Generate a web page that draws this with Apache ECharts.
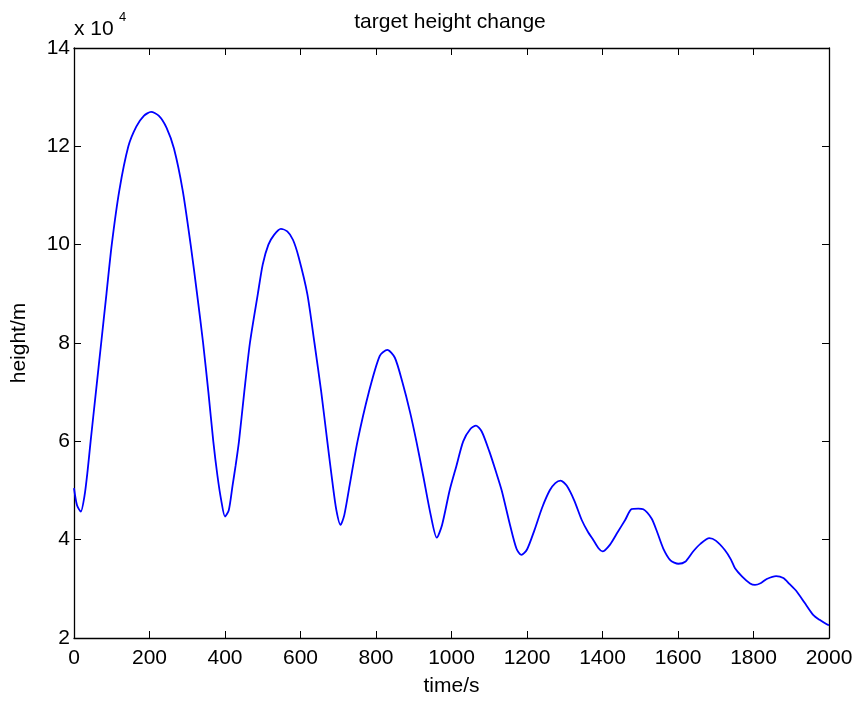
<!DOCTYPE html>
<html>
<head>
<meta charset="utf-8">
<script src="https://cdn.jsdelivr.net/npm/echarts@6/dist/echarts.min.js"></script>
<style>
html,body{margin:0;padding:0;background:#fff;}
#c{width:856px;height:702px;}
</style>
</head>
<body>
<div id="c"></div>
<script>
// time in s
const timeS = [0,8,18,28,36,44,58,72,86,100,120,144,165,185,204,225,245,265,288,309,326,342,356,369,380,390,400,410,420,428,437,451,466,487,500,515,530,548,565,580,595,618,637,655,671,684,695,706,716,730,751,781,810,830,850,870,890,907,925,945,961,975,995,1013,1031,1050,1065,1080,1100,1117,1133,1155,1172,1185,1200,1220,1240,1260,1275,1289,1305,1325,1345,1362,1376,1390,1400,1420,1440,1460,1477,1495,1508,1530,1545,1561,1580,1601,1619,1640,1660,1683,1700,1724,1740,1751,1770,1791,1804,1820,1835,1860,1879,1895,1914,1935,1958,1975,1994,2000];
// height in units of 10^4 m
const heightE4 = [5.05,4.7,4.57,4.9,5.4,6.0,7.0,8.0,9.0,10.0,11.1,12.0,12.4,12.62,12.7,12.62,12.38,11.95,11.1,10.0,9.0,8.0,7.0,6.0,5.3,4.8,4.47,4.6,5.1,5.5,6.0,7.0,8.0,9.0,9.6,10.0,10.2,10.32,10.27,10.1,9.75,9.0,8.0,7.0,6.0,5.2,4.6,4.3,4.5,5.1,6.0,7.0,7.74,7.86,7.7,7.2,6.6,6.0,5.3,4.5,4.04,4.3,5.0,5.5,6.0,6.25,6.32,6.2,5.8,5.4,5.0,4.3,3.82,3.69,3.8,4.2,4.65,5.0,5.15,5.2,5.1,4.8,4.4,4.15,3.99,3.82,3.76,3.9,4.15,4.4,4.62,4.63,4.62,4.43,4.15,3.82,3.58,3.51,3.55,3.76,3.92,4.03,3.98,3.79,3.6,3.42,3.25,3.11,3.08,3.12,3.2,3.26,3.22,3.1,2.95,2.72,2.47,2.37,2.28,2.26];
const xTicks = [0,200,400,600,800,1000,1200,1400,1600,1800,2000];
const yTicks = [2,4,6,8,10,12,14];
const titleText = 'target height change';
const xName = 'time/s';
const yName = 'height/m';
const scaleText = 'x 10';
const scaleExp = '4';

const chart = echarts.init(document.getElementById('c'), null, {renderer:'canvas'});
const FONT = 'Liberation Sans, Arial, sans-serif';
const FS = 21;
const tickCommon = {show:true, inside:true, length:7, lineStyle:{color:'#000', width:1}};
const lineCommon = {show:true, onZero:false, lineStyle:{color:'#000', width:1.3}};
const xMin = xTicks[0], xMax = xTicks[xTicks.length-1], xInt = xTicks[1]-xTicks[0];
const yMin = yTicks[0], yMax = yTicks[yTicks.length-1], yInt = yTicks[1]-yTicks[0];

chart.setOption({
  animation:false,
  backgroundColor:'#fff',
  grid:{left:74, right:27, top:48, bottom:62, containLabel:false},
  xAxis:[
    {type:'value', position:'bottom', min:xMin, max:xMax, interval:xInt,
     name:xName, nameLocation:'middle', nameGap:38,
     nameTextStyle:{fontFamily:FONT, fontSize:FS, color:'#000'},
     axisLine:lineCommon, axisTick:tickCommon,
     axisLabel:{fontFamily:FONT, fontSize:FS, color:'#000', margin:10, formatter:v=>String(v)},
     splitLine:{show:false}},
    {type:'value', position:'top', min:xMin, max:xMax, interval:xInt,
     axisLine:lineCommon, axisTick:tickCommon, axisLabel:{show:false}, splitLine:{show:false}}
  ],
  yAxis:[
    {type:'value', position:'left', min:yMin, max:yMax, interval:yInt,
     name:yName, nameLocation:'middle', nameGap:44, nameRotate:90,
     nameTextStyle:{fontFamily:FONT, fontSize:FS, color:'#000'},
     axisLine:lineCommon, axisTick:tickCommon,
     axisLabel:{fontFamily:FONT, fontSize:FS, color:'#000', margin:4, formatter:v=>String(v)},
     splitLine:{show:false}},
    {type:'value', position:'right', min:yMin, max:yMax, interval:yInt,
     axisLine:lineCommon, axisTick:tickCommon, axisLabel:{show:false}, splitLine:{show:false}}
  ],
  graphic:[
    {type:'text', x:450, y:12, style:{text:titleText, font:'21px '+FONT, fill:'#000', textAlign:'center', textVerticalAlign:'top'}},
    {type:'text', left:74, top:19, style:{text:scaleText, font:FS+'px '+FONT, fill:'#000'}},
    {type:'text', left:119, top:11, style:{text:scaleExp, font:'13px '+FONT, fill:'#000'}}
  ],
  series:[{
    type:'line', xAxisIndex:0, yAxisIndex:0,
    data: timeS.map((t,i)=>[t, heightE4[i]]),
    showSymbol:false, symbol:'none',
    lineStyle:{color:'#0000ff', width:1.8},
    smooth:0.25
  }]
});
</script>
</body>
</html>
